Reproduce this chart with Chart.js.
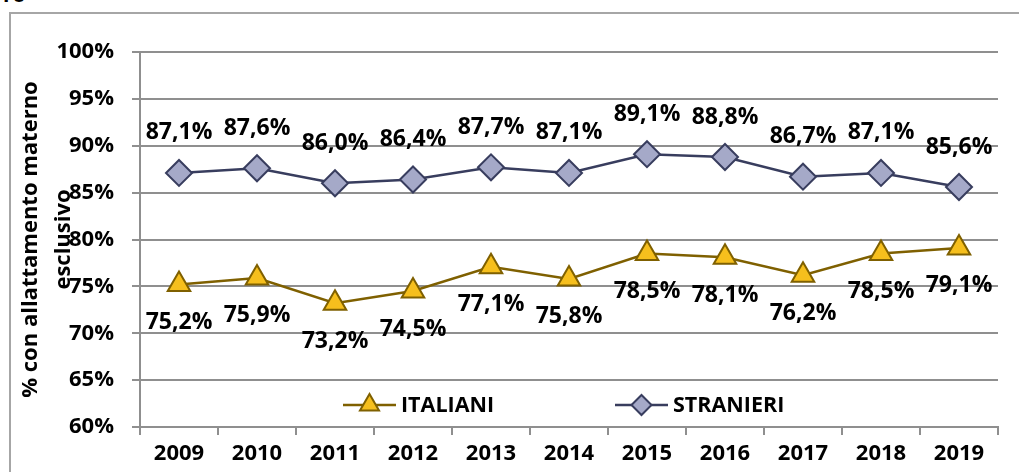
<!DOCTYPE html>
<html>
<head>
<meta charset="utf-8">
<script src="https://cdn.jsdelivr.net/npm/chart.js@4"></script>
<style>
  html, body { margin: 0; padding: 0; background: #fff; overflow: hidden; }
  #wrap { position: relative; width: 1019px; height: 472px; }
  #frame { position: absolute; left: 9px; top: 12px; width: 1040px; height: 500px;
           border-left: 2px solid #a6a6a6; border-top: 2px solid #a6a6a6; }
  #cut { position: absolute; left: 3px; top: -20px; font: bold 21px "Open Sans", sans-serif; color: #000; }
  canvas { position: absolute; left: 0; top: 0; }
</style>
</head>
<body>
<div id="wrap">
  <div id="cut">ro</div>
  <div id="frame"></div>
  <canvas id="chart" width="1019" height="472"></canvas>
</div>
<script>
const years = ['2009', '2010', '2011', '2012', '2013', '2014', '2015', '2016', '2017', '2018', '2019'];
const italiani = [75.2, 75.9, 73.2, 74.5, 77.1, 75.8, 78.5, 78.1, 76.2, 78.5, 79.1];
const stranieri = [87.1, 87.6, 86.0, 86.4, 87.7, 87.1, 89.1, 88.8, 86.7, 87.1, 85.6];
const yTitle = ['% con allattamento materno', 'esclusivo'];

const FONT = '"Open Sans", sans-serif';
const gridGray = '#8f8f8f';

const fmt = v => v.toFixed(1).replace('.', ',') + '%';

// value labels: stranieri above, italiani below
const valueLabels = {
    id: 'valueLabels',
    afterDatasetsDraw(chart) {
        const ctx = chart.ctx;
        ctx.save();
        ctx.font = 'bold 23px ' + FONT;
        ctx.fillStyle = '#000';
        ctx.textAlign = 'center';
        ctx.textBaseline = 'middle';
        chart.data.datasets.forEach((ds, i) => {
            const meta = chart.getDatasetMeta(i);
            const off = ds.label === 'STRANIERI' ? -40 : 38;
            meta.data.forEach((pt, j) => {
                ctx.fillText(fmt(ds.data[j]), pt.x, pt.y + off);
            });
        });
        ctx.restore();
    }
};

// legend inside the plot and rotated axis title
const extras = {
    id: 'extras',
    afterDraw(chart) {
        const ctx = chart.ctx;
        const area = chart.chartArea;
        ctx.save();
        // axis title
        ctx.font = 'bold 22px ' + FONT;
        ctx.fillStyle = '#000';
        ctx.textAlign = 'center';
        ctx.textBaseline = 'middle';
        const cy = (area.top + area.bottom) / 2;
        [31, 64].forEach((x, i) => {
            ctx.save();
            ctx.translate(x, cy);
            ctx.rotate(-Math.PI / 2);
            ctx.fillText(yTitle[i], 0, 0);
            ctx.restore();
        });

        // legend
        const ly = 405;
        const items = [{ ds: chart.data.datasets[0], x: 343 }, { ds: chart.data.datasets[1], x: 615 }];
        items.forEach(it => {
            const ds = it.ds;
            ctx.strokeStyle = ds.borderColor;
            ctx.lineWidth = 2.5;
            ctx.beginPath();
            ctx.moveTo(it.x, ly);
            ctx.lineTo(it.x + 53, ly);
            ctx.stroke();
            ctx.fillStyle = ds.pointBackgroundColor;
            ctx.strokeStyle = ds.pointBorderColor;
            ctx.lineWidth = ds.pointBorderWidth;
            Chart.helpers.drawPoint(ctx, {
                pointStyle: ds.pointStyle,
                radius: ds.label === 'ITALIANI' ? 11 : 10,
                borderWidth: ds.pointBorderWidth,
                rotation: 0
            }, it.x + 26.5, ly);
            ctx.fillStyle = '#000';
            ctx.font = 'bold 21.5px ' + FONT;
            ctx.textAlign = 'left';
            ctx.fillText(ds.label, it.x + 58, ly + 1);
        });
        ctx.restore();
    }
};

new Chart(document.getElementById('chart').getContext('2d'), {
    type: 'line',
    data: {
        labels: years,
        datasets: [{
            label: 'ITALIANI',
            data: italiani,
            borderColor: '#7f6000',
            borderWidth: 2.5,
            pointStyle: 'triangle',
            pointRadius: 13,
            pointBackgroundColor: '#f6bf1d',
            pointBorderColor: '#7f6000',
            pointBorderWidth: 2
        }, {
            label: 'STRANIERI',
            data: stranieri,
            borderColor: '#383d5e',
            borderWidth: 2.5,
            pointStyle: 'rectRot',
            pointRadius: 13,
            pointBackgroundColor: '#a5a9c8',
            pointBorderColor: '#383d5e',
            pointBorderWidth: 2
        }]
    },
    options: {
        responsive: false,
        animation: false,
        layout: { padding: { top: 52, right: 21, left: 0, bottom: 0 } },
        plugins: {
            legend: { display: false },
            tooltip: { enabled: false }
        },
        scales: {
            x: {
                offset: true,
                grid: {
                    offset: true,
                    drawOnChartArea: false,
                    color: gridGray,
                    lineWidth: 2,
                    tickLength: 8
                },
                border: { color: gridGray, width: 2 },
                ticks: {
                    color: '#000',
                    font: { family: FONT, size: 22, weight: 'bold' },
                    padding: 6,
                    maxRotation: 0
                },
                afterFit(scale) { scale.height = 45; }
            },
            y: {
                min: 60,
                max: 100,
                grid: {
                    color: gridGray,
                    lineWidth: 2,
                    tickLength: 8
                },
                border: { color: gridGray, width: 2 },
                ticks: {
                    stepSize: 5,
                    color: '#000',
                    font: { family: FONT, size: 22, weight: 'bold' },
                    padding: 18,
                    callback: v => v + '%'
                },
                afterFit(scale) { scale.width = 140; }
            }
        }
    },
    plugins: [valueLabels, extras]
});
</script>
</body>
</html>
